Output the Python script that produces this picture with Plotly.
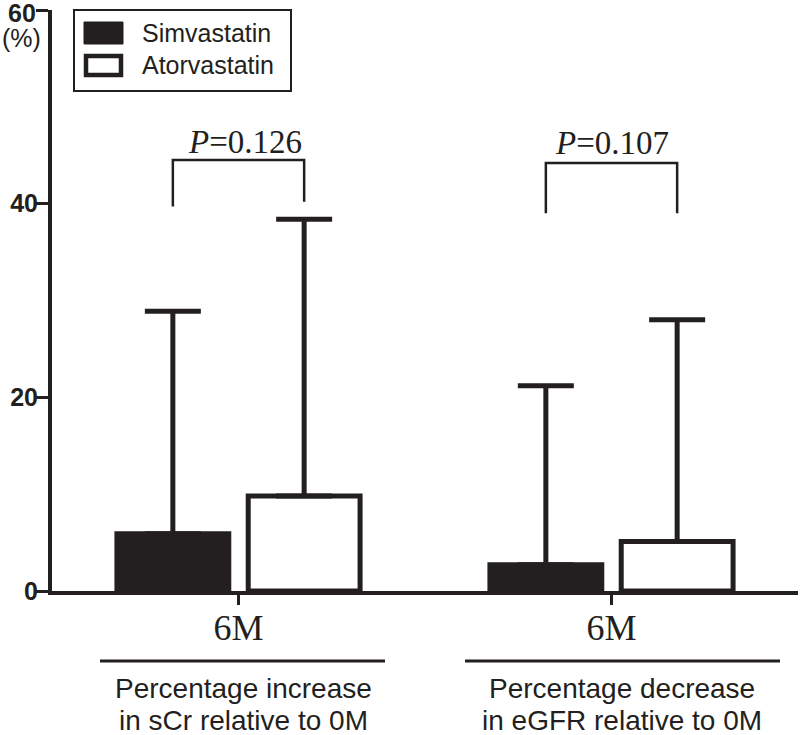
import plotly.graph_objects as go

# ---- data ----
categories = [0, 1]
tick_labels = ["6M", "6M"]
series_names = ["Simvastatin", "Atorvastatin"]
simva_mean = [5.9, 2.7]
simva_err = [23.0, 18.5]
atorva_mean = [9.8, 5.1]
atorva_err = [28.6, 22.9]
y_ticks = [0, 20, 40, 60]
y_tick_text = ["0", "20", "40", ""]  # top label "60" placed as annotation so it is not clipped
p_texts = ["<i>P</i>=0.126", "<i>P</i>=0.107"]
group_titles = [["Percentage increase", "in sCr relative to 0M"],
                ["Percentage decrease", "in eGFR relative to 0M"]]

# ---- layout geometry ----
W, H = 800, 735
ML, MR, MT, MB = 52, 2, 10, 144
PW, PH = W - ML - MR, H - MT - MB
YMAX = 60.0
BARGAP = 0.296
OFF = (1 - BARGAP) / 4  # bar centre offset within group

def xp(px):  # pixel -> paper x
    return (px - ML) / PW

def yp(py):  # pixel -> paper y
    return (MT + PH - py) / PH

def xd(px):  # pixel -> data x
    return -0.5 + (px - ML) / PW * 2.0

SANS = "Arial, Liberation Sans, sans-serif"
SERIF = "Times New Roman, Liberation Serif, serif"
INK = "#231f20"

fig = go.Figure()
fig.add_trace(go.Bar(
    x=categories, y=simva_mean, name=series_names[0],
    marker=dict(color=INK, line=dict(color=INK, width=5)),
    error_y=dict(type="data", symmetric=False, array=simva_err,
                 arrayminus=[0] * len(simva_err), color=INK,
                 thickness=5, width=28),
    showlegend=False,
))
fig.add_trace(go.Bar(
    x=categories, y=atorva_mean, name=series_names[1],
    marker=dict(color="white", line=dict(color=INK, width=5)),
    error_y=dict(type="data", symmetric=False, array=atorva_err,
                 arrayminus=[0] * len(atorva_err), color=INK,
                 thickness=5, width=28),
    showlegend=False,
))

shapes = []
annotations = []

# significance brackets
bracket_tops = [44.5, 44.2]
bracket_left_bottoms = [39.7, 39.0]
bracket_right_bottoms = [40.2, 39.0]
p_pos = [(245, 142), (612, 143)]
for i, c in enumerate(categories):
    xl, xr = c - OFF, c + OFF
    pts = f"M {xl},{bracket_left_bottoms[i]} L {xl},{bracket_tops[i]} L {xr},{bracket_tops[i]} L {xr},{bracket_right_bottoms[i]}"
    shapes.append(dict(type="path", path=pts, xref="x", yref="y",
                       line=dict(color=INK, width=2.5)))
    annotations.append(dict(text=p_texts[i], x=xd(p_pos[i][0]),
                            y=(MT + PH - p_pos[i][1]) / PH * YMAX,
                            xref="x", yref="y", showarrow=False,
                            xanchor="center", yanchor="middle",
                            font=dict(family=SERIF, size=33, color=INK)))

# group underline + title
line_spans = [(100, 385), (465, 780)]
title_centers = [243, 622]
for i in range(2):
    shapes.append(dict(type="line", xref="paper", yref="paper",
                       x0=xp(line_spans[i][0]), x1=xp(line_spans[i][1]),
                       y0=yp(661), y1=yp(661),
                       line=dict(color=INK, width=3)))
    for j, txt in enumerate(group_titles[i]):
        annotations.append(dict(text=txt, x=xp(title_centers[i]),
                                y=yp(689 + 31 * j), xref="paper", yref="paper",
                                showarrow=False, xanchor="center", yanchor="middle",
                                font=dict(family=SANS, size=28, color=INK)))

# top y tick label and unit label
annotations.append(dict(text="<b>60</b>", x=xp(38), y=yp(13), xref="paper", yref="paper",
                        showarrow=False, xanchor="right", yanchor="middle",
                        font=dict(family=SANS, size=25, color=INK)))
annotations.append(dict(text="(%)", x=xp(21), y=yp(38), xref="paper", yref="paper",
                        showarrow=False, xanchor="center", yanchor="middle",
                        font=dict(family=SANS, size=25, color=INK)))

# manual legend
shapes.append(dict(type="rect", xref="paper", yref="paper",
                   x0=xp(74), x1=xp(291), y0=yp(10), y1=yp(91),
                   line=dict(color=INK, width=2), fillcolor="white", layer="above"))
shapes.append(dict(type="rect", xref="paper", yref="paper",
                   x0=xp(84), x1=xp(123), y0=yp(22), y1=yp(44),
                   line=dict(color=INK, width=1), fillcolor=INK, layer="above"))
shapes.append(dict(type="rect", xref="paper", yref="paper",
                   x0=xp(86), x1=xp(121), y0=yp(56), y1=yp(75),
                   line=dict(color=INK, width=4.5), fillcolor="white", layer="above"))
for name, cy in zip(series_names, [33, 65]):
    annotations.append(dict(text=name, x=xp(140), y=yp(cy), xref="paper", yref="paper",
                            showarrow=False, xanchor="left", yanchor="middle",
                            font=dict(family=SANS, size=25, color=INK)))

fig.update_layout(
    width=W, height=H,
    margin=dict(l=ML, r=MR, t=MT, b=MB, pad=0, autoexpand=False),
    plot_bgcolor="white", paper_bgcolor="white",
    barmode="group", bargap=BARGAP, bargroupgap=0.148,
    shapes=shapes, annotations=annotations,
    xaxis=dict(range=[-0.5, 1.5], tickvals=categories, ticktext=tick_labels,
               automargin=False, ticklabelstandoff=-8,
               showline=True, linecolor=INK, linewidth=4,
               ticks="outside", ticklen=10, tickwidth=3, tickcolor=INK,
               showgrid=False, zeroline=False,
               tickfont=dict(family=SERIF, size=36, color=INK)),
    yaxis=dict(range=[0, YMAX], tickvals=y_ticks, ticktext=y_tick_text,
               automargin=False, ticklabeloverflow="allow",
               showline=True, linecolor=INK, linewidth=4,
               ticks="outside", ticklen=12, tickwidth=3, tickcolor=INK,
               showgrid=False, zeroline=False, ticklabelstandoff=-7,
               tickfont=dict(family=SANS, size=25, color=INK, weight="bold")),
)

fig.write_html("out.html", config={"displayModeBar": False},
               post_script="document.body.style.margin='0';document.body.style.overflow='hidden';")
